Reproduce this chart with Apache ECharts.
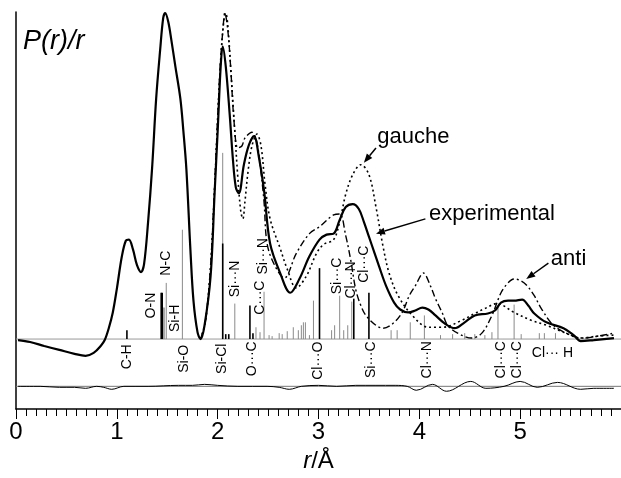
<!DOCTYPE html>
<html>
<head>
<meta charset="utf-8">
<script src="https://cdn.jsdelivr.net/npm/echarts@6/dist/echarts.min.js"></script>
<style>
  html, body { margin: 0; background: #fff; }
  #chart { width: 621px; height: 478px; }
</style>
</head>
<body>
<div id="chart"></div>
<script>
// r in Å, P(r)/r in arbitrary units (0 = baseline)
const expR = [0.02, 0.14, 0.28, 0.43, 0.58, 0.69, 0.77, 0.84, 0.88, 0.92, 0.96, 1.00, 1.05, 1.09, 1.12, 1.16, 1.20, 1.24, 1.27, 1.31, 1.35, 1.39, 1.43, 1.46, 1.48, 1.51, 1.54, 1.58, 1.63, 1.66, 1.69, 1.73, 1.76, 1.80, 1.83, 1.87, 1.93, 1.97, 2.00, 2.03, 2.05, 2.08, 2.12, 2.15, 2.18, 2.21, 2.26, 2.31, 2.36, 2.41, 2.46, 2.52, 2.62, 2.72, 2.81, 2.91, 3.01, 3.08, 3.15, 3.21, 3.27, 3.34, 3.40, 3.45, 3.50, 3.55, 3.60, 3.67, 3.75, 3.81, 3.89, 3.96, 4.03, 4.09, 4.16, 4.25, 4.35, 4.45, 4.55, 4.68, 4.75, 4.81, 4.88, 4.94, 5.02, 5.08, 5.14, 5.26, 5.43, 5.53, 5.60, 5.73, 5.93]
const expY = [-1, -3, -7, -11, -15, -17, -14, -7, -1, 11, 27, 51, 84, 100, 101, 91, 75, 68, 76, 119, 174, 244, 294, 326, 331, 322, 304, 277, 244, 211, 172, 90, 39, 7, 0, 14, 64, 149, 211, 277, 297, 277, 227, 184, 154, 148, 177, 197, 206, 184, 151, 97, 67, 47, 61, 84, 101, 106, 107, 121, 134, 137, 132, 119, 104, 89, 74, 54, 37, 30, 27, 29, 32, 30, 24, 16, 11, 17, 24, 26, 29, 37, 39, 39, 40, 34, 26, 17, 11, 4, -2, -1, 1]

// gauche model (coincides with experiment below 1.8 Å)
const gauR = [1.83, 1.88, 1.93, 1.97, 2.00, 2.03, 2.06, 2.08, 2.10, 2.13, 2.17, 2.20, 2.23, 2.25, 2.27, 2.30, 2.34, 2.39, 2.43, 2.47, 2.52, 2.62, 2.69, 2.78, 2.88, 2.98, 3.05, 3.15, 3.21, 3.27, 3.34, 3.42, 3.50, 3.57, 3.64, 3.70, 3.79, 3.93, 4.09, 4.23, 4.42, 4.55, 4.65, 4.77, 4.94, 5.11, 5.26, 5.43, 5.60, 5.77, 5.93]
const gauY = [0, 19, 74, 154, 224, 284, 322, 331, 319, 274, 211, 164, 129, 122, 139, 169, 196, 208, 196, 157, 122, 92, 71, 52, 64, 87, 96, 101, 119, 147, 167, 177, 167, 134, 94, 67, 44, 24, 12, 12, 19, 26, 31, 36, 27, 19, 14, 7, 1, 3, 4]

// anti model
const antR = [1.83, 1.88, 1.93, 1.97, 2.00, 2.03, 2.06, 2.07, 2.10, 2.13, 2.16, 2.20, 2.24, 2.27, 2.34, 2.39, 2.43, 2.46, 2.49, 2.56, 2.66, 2.78, 2.91, 3.01, 3.15, 3.21, 3.27, 3.32, 3.37, 3.42, 3.47, 3.57, 3.64, 3.74, 3.83, 3.90, 3.96, 4.04, 4.11, 4.16, 4.23, 4.28, 4.38, 4.52, 4.62, 4.72, 4.81, 4.88, 4.94, 5.01, 5.07, 5.14, 5.21, 5.33, 5.50, 5.63, 5.77, 5.93]
const antY = [0, 19, 74, 154, 224, 284, 324, 331, 314, 274, 224, 194, 196, 204, 210, 199, 169, 139, 97, 76, 62, 87, 107, 114, 126, 127, 105, 80, 50, 34, 24, 14, 11, 16, 27, 44, 54, 67, 54, 41, 26, 14, 6, 1, 6, 24, 47, 57, 61, 59, 54, 44, 31, 14, 4, 1, 3, 6]

// difference curve (drawn around its own baseline)
const resR = [0.02, 0.24, 0.43, 0.58, 0.69, 0.80, 0.87, 0.95, 1.07, 1.31, 1.61, 1.75, 1.87, 2.00, 2.20, 2.49, 2.61, 2.71, 2.83, 3.00, 3.18, 3.37, 3.57, 3.76, 3.88, 3.97, 4.13, 4.27, 4.51, 4.66, 4.84, 5.00, 5.17, 5.37, 5.60, 5.73, 5.93]
const resY = [0, 0, -1, -1, -2, 0, -1, -3, 0, 0, 1, 1, 2, 1, 0, 0, -1, -3, 0, 1, 0, 1, 1, 1, 0, -4, 2, -5, 5, -2, 0, 5, -1, 4, -3, -2, -2]
const resBase = -48

// distance sticks: black = labelled bonded/main ones, grey = the rest
const darkR = [1.10, 1.44, 1.45, 2.05, 2.08, 2.11, 2.32, 2.35, 3.01, 3.35, 3.50]
const darkH = [9, 47, 47, 97, 5, 5, 34, 6, 72, 41, 47]
const greyR = [1.46, 1.47, 1.49, 1.65, 2.05, 2.17, 2.38, 2.42, 2.46, 2.51, 2.54, 2.61, 2.64, 2.69, 2.75, 2.80, 2.83, 2.85, 2.87, 2.91, 2.95, 3.13, 3.16, 3.21, 3.25, 3.29, 3.33, 3.72, 3.78, 3.91, 4.05, 4.21, 4.33, 4.45, 4.55, 4.65, 4.72, 4.78, 4.94, 5.01, 5.19, 5.24, 5.35]
const greyH = [32, 32, 57, 111, 189, 36, 12, 7, 48, 4, 3, 6, 5, 8, 12, 9, 14, 17, 17, 4, 39, 9, 14, 44, 9, 14, 38, 9, 9, 17, 24, 4, 5, 6, 5, 4, 7, 34, 35, 5, 6, 6, 6]

// stick labels
const labText = ['C-H', 'O-N', 'Si-H', 'N-C', 'Si-O', 'Si-Cl', 'Si···N', 'O···C', 'C···C', 'Si···N', 'Cl···O', 'Si···C', 'Cl···N', 'Cl···C', 'Si···C', 'Cl···N', 'Cl···C', 'Cl···C', 'Cl··· H']
const labR = [1.10, 1.34, 1.58, 1.49, 1.67, 2.04, 2.17, 2.34, 2.42, 2.45, 3.00, 3.18, 3.32, 3.45, 3.52, 4.08, 4.81, 4.97, 5.32]
const labY = [-18, 34, 21, 77, -20, -20, 61, -20, 42, 84, -22, 64, 60, 76, -21, -21, -21, -21, -14]
const labUpright = [0, 0, 0, 0, 0, 0, 0, 0, 0, 0, 0, 0, 0, 0, 0, 0, 0, 0, 1]

// curve captions with arrows
const noteText = ['gauche', 'experimental', 'anti']
const noteAt = [[3.94, 205], [4.72, 127], [5.48, 81]]
const noteTail = [[3.57, 194], [4.06, 122], [5.28, 77]]
const noteHead = [[3.45, 179], [3.57, 107], [5.06, 61]]

const FONT = '"Liberation Sans", Arial, sans-serif'
const zip = (xs, ys, dy = 0) => xs.map((x, i) => [x, ys[i] + dy])

const chart = echarts.init(document.getElementById('chart'))

function stickSeries (rs, hs, color, width) {
  return {
    type: 'custom',
    silent: true,
    z: 1,
    data: zip(rs, hs),
    renderItem (params, api) {
      const p0 = api.coord([api.value(0), 0])
      const p1 = api.coord([api.value(0), api.value(1)])
      return {
        type: 'line',
        shape: { x1: p0[0], y1: p0[1], x2: p1[0], y2: p1[1] },
        style: { stroke: color, lineWidth: width }
      }
    }
  }
}

function flatLine (y, color) {
  return {
    type: 'line',
    silent: true,
    symbol: 'none',
    z: 0,
    data: [[0, y], [6, y]],
    lineStyle: { color, width: 1 }
  }
}

function curve (rs, ys, type, width, dy = 0) {
  return {
    type: 'line',
    silent: true,
    symbol: 'none',
    smooth: 0.35,
    z: 3,
    data: zip(rs, ys, dy),
    lineStyle: { color: '#000', width, type }
  }
}

chart.setOption({
  animation: false,
  backgroundColor: '#fff',
  grid: { left: 16, right: -7, top: 12, bottom: 63 },
  xAxis: {
    type: 'value',
    min: 0,
    max: 6,
    interval: 1,
    name: '{i|r}/Å',
    nameLocation: 'middle',
    nameGap: 40,
    nameTextStyle: {
      color: '#000',
      fontFamily: FONT,
      fontSize: 24,
      rich: { i: { fontStyle: 'italic', fontFamily: FONT, fontSize: 24, color: '#000' } }
    },
    axisLine: { onZero: false, lineStyle: { color: '#000', width: 1.5 } },
    axisTick: { length: 10, lineStyle: { color: '#000', width: 1 } },
    minorTick: { show: true, splitNumber: 10, length: 7, lineStyle: { color: '#000', width: 1 } },
    axisLabel: { color: '#000', fontFamily: FONT, fontSize: 24, margin: 11, showMaxLabel: false },
    splitLine: { show: false }
  },
  yAxis: {
    type: 'value',
    min: -71,
    max: 332,
    axisLine: { show: true, onZero: false, lineStyle: { color: '#000', width: 1.5 } },
    axisTick: { show: false },
    axisLabel: { show: false },
    splitLine: { show: false }
  },
  graphic: [{
    type: 'text',
    left: 23,
    top: 28,
    style: { text: 'P(r)/r', font: 'italic 27px ' + FONT, fill: '#000' }
  }],
  series: [
    flatLine(0, '#999'),
    flatLine(resBase, '#777'),
    stickSeries(greyR, greyH, '#8a8a8a', 1),
    stickSeries(darkR, darkH, '#000', 1.6),
    curve(resR, resY, 'solid', 1, resBase),
    curve(antR, antY, [7, 3, 2, 3], 1.4),
    curve(gauR, gauY, [2, 3], 1.6),
    curve(expR, expY, 'solid', 2.2),
    {
      // stick labels
      type: 'custom',
      silent: true,
      z: 5,
      data: labR.map((r, i) => [r, labY[i], i]),
      renderItem (params, api) {
        const i = api.value(2)
        const p = api.coord([api.value(0), api.value(1)])
        return {
          type: 'text',
          x: p[0],
          y: p[1],
          rotation: labUpright[i] ? 0 : Math.PI / 2,
          style: {
            text: labText[i],
            font: '14px ' + FONT,
            fill: '#000',
            align: 'center',
            verticalAlign: 'middle'
          }
        }
      }
    },
    {
      // captions + arrows
      type: 'custom',
      silent: true,
      z: 6,
      data: noteText.map((t, i) => [noteAt[i][0], noteAt[i][1], i]),
      renderItem (params, api) {
        const i = api.value(2)
        const p = api.coord(noteAt[i])
        const a = api.coord(noteTail[i])
        const b = api.coord(noteHead[i])
        const ang = Math.atan2(b[1] - a[1], b[0] - a[0])
        const len = 9
        const wid = 3.5
        const back = [b[0] - len * Math.cos(ang), b[1] - len * Math.sin(ang)]
        const nx = -Math.sin(ang) * wid
        const ny = Math.cos(ang) * wid
        return {
          type: 'group',
          children: [
            {
              type: 'text',
              x: p[0],
              y: p[1],
              style: { text: noteText[i], font: '22px ' + FONT, fill: '#000', align: 'center', verticalAlign: 'middle' }
            },
            {
              type: 'line',
              shape: { x1: a[0], y1: a[1], x2: back[0], y2: back[1] },
              style: { stroke: '#000', lineWidth: 1.5 }
            },
            {
              type: 'polygon',
              shape: { points: [b, [back[0] + nx, back[1] + ny], [back[0] - nx, back[1] - ny]] },
              style: { fill: '#000' }
            }
          ]
        }
      }
    }
  ]
})
</script>
</body>
</html>
